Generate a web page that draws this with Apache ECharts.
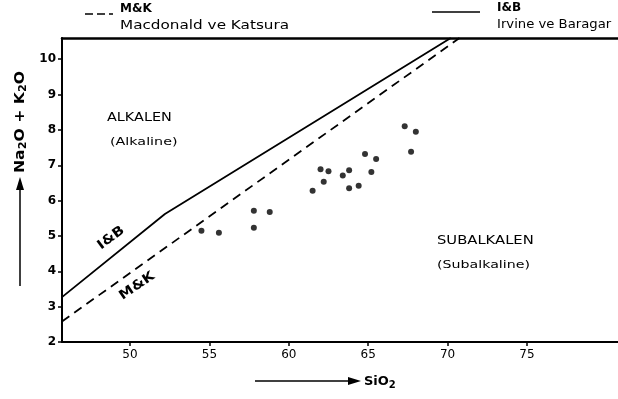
<!DOCTYPE html>
<html><head><meta charset="utf-8">
<script src="https://cdn.jsdelivr.net/npm/echarts@6/dist/echarts.min.js"></script>
<style>html,body{margin:0;padding:0;background:#fff}#c{width:618px;height:399px}</style>
</head><body><div id="c"></div>
<script>
// Tick labels
const xTicks = [50, 55, 60, 65, 70, 75];
const yTicks = [2, 3, 4, 5, 6, 7, 8, 9, 10];
// Samples: SiO2 (wt%) and Na2O+K2O (wt%)
const sio2   = [54.5, 55.6, 57.8, 57.8, 58.8, 61.5, 62.0, 62.5, 62.2, 63.4, 63.8, 63.8, 64.4, 64.8, 65.5, 65.2, 67.3, 68.0, 67.7];
const alkali = [5.15, 5.09, 5.71, 5.23, 5.68, 6.28, 6.89, 6.83, 6.53, 6.71, 6.86, 6.35, 6.42, 7.32, 7.18, 6.81, 8.10, 7.95, 7.38];
// Irvine & Baragar dividing line
const ibSiO2 = [45.72, 52.2, 70.2];
const ibAlk  = [3.27, 5.62, 10.6];
// Macdonald & Katsura dividing line
const mkSiO2 = [45.72, 70.75];
const mkAlk  = [2.58, 10.6];

const F = '"DejaVu Sans", sans-serif';
const chart = echarts.init(document.getElementById('c'), null, {renderer: 'canvas'});
const option = {
  animation: false,
  backgroundColor: '#fff',
  grid: {left: 62, right: 0, top: 38, bottom: 57},
  xAxis: [{
    type: 'value', min: 45.72, max: 80.73,
    axisLine: {show: true, onZero: false, lineStyle: {color: '#000', width: 2}},
    axisTick: {show: true, customValues: xTicks, length: 4, lineStyle: {color: '#000', width: 1.5}},
    axisLabel: {customValues: xTicks, color: '#000', fontSize: 12, fontFamily: F, margin: 7},
    splitLine: {show: false}
  }, {
    type: 'value', position: 'top', min: 45.72, max: 80.73,
    axisLine: {show: true, onZero: false, lineStyle: {color: '#000', width: 2.5}},
    axisTick: {show: false}, axisLabel: {show: false}, splitLine: {show: false}
  }],
  yAxis: {
    type: 'value', min: 2, max: 10.6,
    axisLine: {show: true, onZero: false, lineStyle: {color: '#000', width: 2}},
    axisTick: {show: true, customValues: yTicks, length: 4, lineStyle: {color: '#000', width: 1.5}},
    axisLabel: {customValues: yTicks, color: '#000', fontSize: 12, fontWeight: 'bold', fontFamily: F, margin: 6},
    splitLine: {show: false}
  },
  series: [
    {type: 'line', data: ibSiO2.map((x, i) => [x, ibAlk[i]]), symbol: 'none',
     lineStyle: {color: '#000', width: 1.8}},
    {type: 'line', data: mkSiO2.map((x, i) => [x, mkAlk[i]]), symbol: 'none',
     lineStyle: {color: '#000', width: 1.8, type: [9, 6]}},
    {type: 'scatter', data: sio2.map((x, i) => [x, alkali[i]]), symbol: 'circle', symbolSize: 6,
     itemStyle: {color: '#000'}}
  ],
  graphic: [
    {type: 'line', shape: {x1: 85, y1: 14, x2: 113, y2: 14}, style: {stroke: '#000', lineWidth: 1.5, lineDash: [8, 4]}},
    {type: 'text', x: 120, y: 9, style: {text: 'M&K', font: 'bold 12px ' + F, fill: '#000', verticalAlign: 'middle'}},
    {type: 'text', x: 120, y: 26, scaleX: 1.27, style: {text: 'Macdonald ve Katsura', font: '12px ' + F, fill: '#000', verticalAlign: 'middle'}},
    {type: 'line', shape: {x1: 432, y1: 12, x2: 480, y2: 12}, style: {stroke: '#000', lineWidth: 1.5}},
    {type: 'text', x: 497, y: 8, style: {text: 'I&B', font: 'bold 12px ' + F, fill: '#000', verticalAlign: 'middle'}},
    {type: 'text', x: 497, y: 25, scaleX: 1.1, style: {text: 'Irvine ve Baragar', font: '12px ' + F, fill: '#000', verticalAlign: 'middle'}},
    {type: 'text', x: 107, y: 118, scaleX: 1.2, style: {text: 'ALKALEN', font: '12px ' + F, fill: '#000', verticalAlign: 'middle'}},
    {type: 'text', x: 110, y: 142, scaleX: 1.3, style: {text: '(Alkaline)', font: '11px ' + F, fill: '#000', verticalAlign: 'middle'}},
    {type: 'text', x: 437, y: 241, scaleX: 1.23, style: {text: 'SUBALKALEN', font: '12px ' + F, fill: '#000', verticalAlign: 'middle'}},
    {type: 'text', x: 437, y: 265, scaleX: 1.29, style: {text: '(Subalkaline)', font: '11px ' + F, fill: '#000', verticalAlign: 'middle'}},
    {type: 'text', x: 111, y: 238, rotation: 0.64, scaleX: 1.15, style: {text: 'I&B', font: 'bold 13px ' + F, fill: '#000', align: 'center', verticalAlign: 'middle'}},
    {type: 'text', x: 137, y: 286, rotation: 0.6, scaleX: 1.15, style: {text: 'M&K', font: 'bold 13px ' + F, fill: '#000', align: 'center', verticalAlign: 'middle'}},
    {type: 'text', x: 20, y: 122, rotation: Math.PI / 2, scaleX: 1.12, style: {
      text: '{a|Na}{s|2}{a|O + K}{s|2}{a|O}', align: 'center', verticalAlign: 'middle',
      rich: {a: {font: 'bold 14px ' + F, fill: '#000'}, s: {font: 'bold 10px ' + F, fill: '#000', padding: [6, 0, 0, 0]}}
    }},
    {type: 'line', shape: {x1: 20, y1: 286, x2: 20, y2: 186}, style: {stroke: '#000', lineWidth: 1.5}},
    {type: 'polygon', shape: {points: [[20, 177], [16, 190], [24, 190]]}, style: {fill: '#000'}},
    {type: 'line', shape: {x1: 255, y1: 381, x2: 352, y2: 381}, style: {stroke: '#000', lineWidth: 1.5}},
    {type: 'polygon', shape: {points: [[361, 381], [348, 377], [348, 385]]}, style: {fill: '#000'}},
    {type: 'text', x: 364, y: 382, style: {
      text: '{a|SiO}{s|2}', verticalAlign: 'middle',
      rich: {a: {font: 'bold 13px ' + F, fill: '#000'}, s: {font: 'bold 10px ' + F, fill: '#000', padding: [6, 0, 0, 0]}}
    }}
  ]
};
chart.setOption(option);
</script>
</body></html>
